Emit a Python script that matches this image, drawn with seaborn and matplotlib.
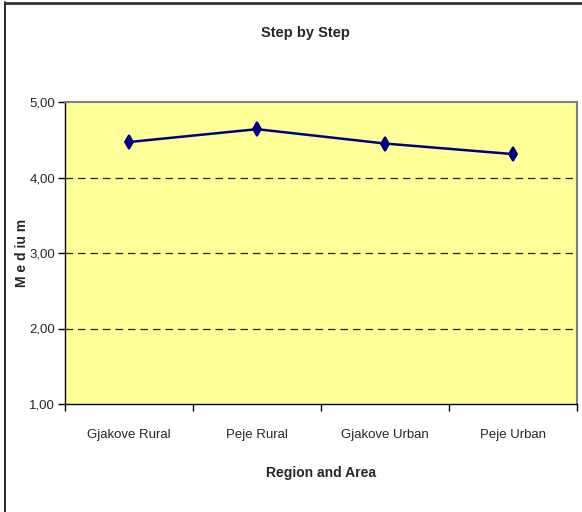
import pandas as pd
import seaborn as sns
import matplotlib.pyplot as plt
from matplotlib.ticker import FixedLocator, FuncFormatter
from matplotlib.lines import Line2D

# Data
regions = ['Gjakove Rural', 'Peje Rural', 'Gjakove Urban', 'Peje Urban']
medium = [4.47, 4.64, 4.45, 4.31]

df = pd.DataFrame({'Region': regions, 'Medium': medium})

sns.set_theme(style='white')
plt.rcParams['font.family'] = ['Liberation Sans Narrow', 'Liberation Sans', 'DejaVu Sans']

fig = plt.figure(figsize=(5.82, 5.12), dpi=100)
ax = fig.add_axes([65 / 582, 1 - 404 / 512, 512 / 582, 302 / 512])
ax.set_facecolor('#FFFF99')

sns.pointplot(data=df, x='Region', y='Medium', order=regions, color='#000080',
              markers='d', linestyles='-', ax=ax, errorbar=None,
              markersize=7, linewidth=1.8)

ax.set_xlim(-0.5, len(regions) - 0.5)
ax.set_ylim(1, 5)
ax.set_yticks([1, 2, 3, 4, 5])
ax.yaxis.set_major_formatter(FuncFormatter(lambda v, p: f'{v:.2f}'.replace('.', ',')))
for y in [2, 3, 4]:
    ax.axhline(y, color='#222222', linestyle=(0, (6, 4)), linewidth=0.9, zorder=0)

ax.xaxis.set_minor_locator(FixedLocator([i - 0.5 for i in range(len(regions) + 1)]))
ax.tick_params(axis='x', which='major', length=0, pad=18, labelsize=9.5)
ax.tick_params(axis='x', which='minor', length=5, width=1, color='black', direction='out', bottom=True)
ax.tick_params(axis='y', length=5, width=1, color='black', direction='out', left=True, labelsize=9.5, pad=2)

for s in ['left', 'bottom']:
    ax.spines[s].set_color('black')
    ax.spines[s].set_linewidth(1)
for s in ['top', 'right']:
    ax.spines[s].set_color('#808080')
    ax.spines[s].set_linewidth(1.5)

ax.set_xlabel('Region and Area', fontsize=10, fontweight='bold')
ax.set_ylabel('M e d iu m', fontsize=10, fontweight='bold')
ax.xaxis.set_label_coords(0.5, -(473 - 404) / 302)
ax.yaxis.set_label_coords(-(65 - 22) / 512, 0.5)
ax.xaxis.label.set_va('center')
ax.yaxis.label.set_va('center')
fig.text(305 / 582, 1 - 33 / 512, 'Step by Step', ha='center', va='center',
         fontsize=10.5, fontweight='bold')

# outer chart frame (left and top edges visible)
fig.add_artist(Line2D([5 / 582, 5 / 582], [0, 1 - 2 / 512], transform=fig.transFigure, color='black', lw=1.2))
fig.add_artist(Line2D([5 / 582, 1], [1 - 2.5 / 512, 1 - 2.5 / 512], transform=fig.transFigure, color='#333333', lw=2))

fig.savefig('out.png', dpi=100)
